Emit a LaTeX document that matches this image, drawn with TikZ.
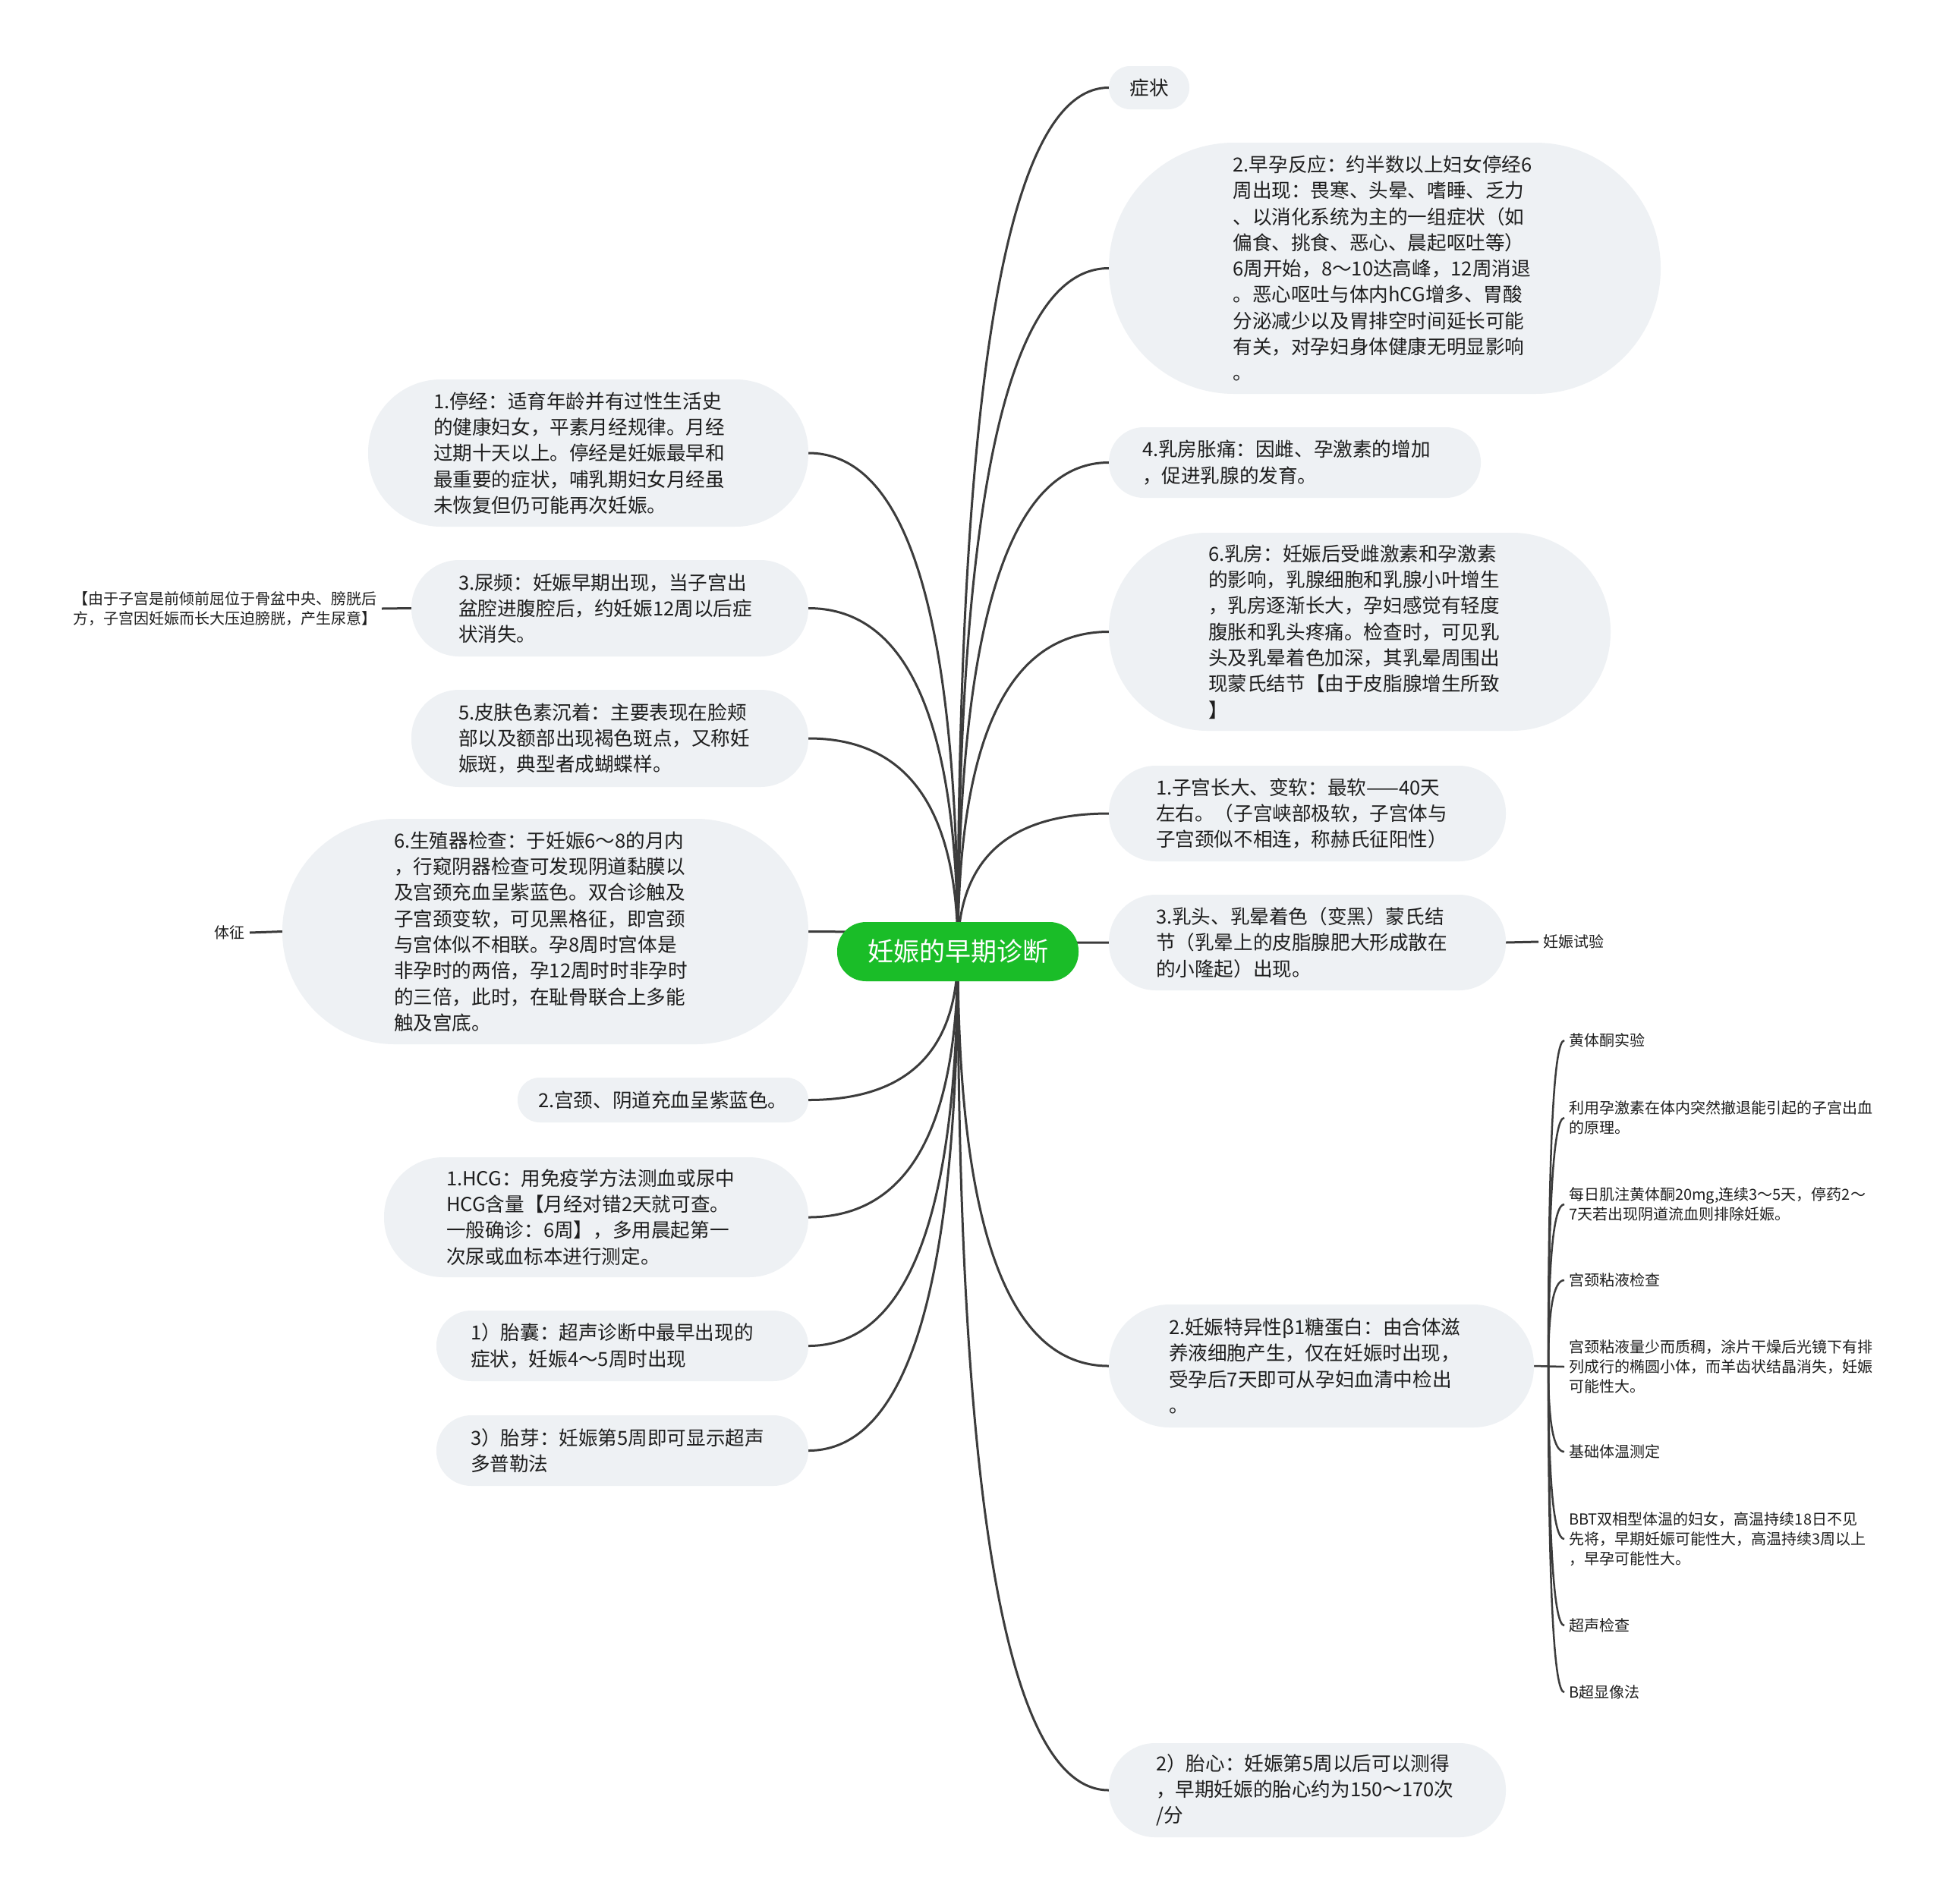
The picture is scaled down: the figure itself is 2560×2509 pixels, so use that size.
\documentclass[tikz,border=0pt]{standalone}
\usepackage{fontspec}
\newfontfamily\cjk{Noto Sans CJK SC}
\usetikzlibrary{calc,backgrounds}
\definecolor{boxgray}{RGB}{238,241,244}
\definecolor{txt}{RGB}{30,30,30}
\definecolor{lnk}{RGB}{60,60,60}
\definecolor{ctrgreen}{RGB}{26,189,40}
\newcommand\mmlink[3][]{\draw[lnk,line width=3pt,#1] (#2) .. controls ($(#2)!0.667!(#2 |- #3)$) and ($(#3)!0.667!(#2 |- #3)$) .. (#3);}
\begin{document}
\begin{tikzpicture}[x=1pt,y=-1pt,
 bx/.style={fill=boxgray,text=txt,font=\cjk\fontsize{25.6}{34.3}\selectfont,align=left,text width=400pt,inner sep=0pt},
 sm/.style={text=txt,font=\cjk\fontsize{20}{26}\selectfont,align=left,inner xsep=6pt,inner ysep=0pt}]
\useasboundingbox (0,0) rectangle (2560,2509);

% centre
\node[fill=ctrgreen,text=white,font=\cjk\fontsize{34}{40}\selectfont,minimum width=318pt,minimum height=78pt,rounded corners=38pt,inner sep=0pt] (ctr) at (1262,1254) {妊娠的早期诊断};

% right side
\node[bx,text width=,align=center,minimum width=106pt,minimum height=57pt,rounded corners=28pt] (R1) at (1514,115.5) {症状};
\node[bx,minimum width=727pt,minimum height=331pt,rounded corners=165pt] (R2) at (1824.5,353.5) {2.早孕反应：约半数以上妇女停经6\\周出现：畏寒、头晕、嗜睡、乏力\\、以消化系统为主的一组症状（如\\偏食、挑食、恶心、晨起呕吐等）\\6周开始，8～10达高峰，12周消退\\。恶心呕吐与体内hCG增多、胃酸\\分泌减少以及胃排空时间延长可能\\有关，对孕妇身体健康无明显影响\\。};
\node[bx,minimum width=490pt,minimum height=93pt,rounded corners=46pt,text width=402pt] (R3) at (1706,609.5) {4.乳房胀痛：因雌、孕激素的增加\\，促进乳腺的发育。};
\node[bx,minimum width=661pt,minimum height=261pt,rounded corners=130pt,text width=399pt] (R4) at (1791.5,832.5) {6.乳房：妊娠后受雌激素和孕激素\\的影响，乳腺细胞和乳腺小叶增生\\，乳房逐渐长大，孕妇感觉有轻度\\腹胀和乳头疼痛。检查时，可见乳\\头及乳晕着色加深，其乳晕周围出\\现蒙氏结节【由于皮脂腺增生所致\\】};
\node[bx,minimum width=523pt,minimum height=126pt,rounded corners=62pt,text width=399pt] (R5) at (1722.5,1072) {1.子宫长大、变软：最软——40天\\左右。（子宫峡部极软，子宫体与\\子宫颈似不相连，称赫氏征阳性）};
\node[bx,minimum width=523pt,minimum height=126pt,rounded corners=62pt,text width=399pt] (R6) at (1722.5,1242) {3.乳头、乳晕着色（变黑）蒙氏结\\节（乳晕上的皮脂腺肥大形成散在\\的小隆起）出现。};
\node[bx,minimum width=560pt,minimum height=162pt,rounded corners=80pt,text width=402pt] (R7) at (1741,1800) {2.妊娠特异性β1糖蛋白：由合体滋\\养液细胞产生，仅在妊娠时出现，\\受孕后7天即可从孕妇血清中检出\\。};
\node[bx,minimum width=523pt,minimum height=124pt,rounded corners=61pt,text width=399pt] (R8) at (1722.5,2359) {2）胎心：妊娠第5周以后可以测得\\，早期妊娠的胎心约为150～170次\\/分};

% left side
\node[bx,minimum width=580pt,minimum height=194pt,rounded corners=96pt,text width=408pt] (L1) at (775,597) {1.停经：适育年龄并有过性生活史\\的健康妇女，平素月经规律。月经\\过期十天以上。停经是妊娠最早和\\最重要的症状，哺乳期妇女月经虽\\未恢复但仍可能再次妊娠。};
\node[bx,minimum width=523pt,minimum height=127pt,rounded corners=63pt,text width=399pt] (L2) at (803.5,801.5) {3.尿频：妊娠早期出现，当子宫出\\盆腔进腹腔后，约妊娠12周以后症\\状消失。};
\node[bx,minimum width=523pt,minimum height=128pt,rounded corners=63pt,text width=399pt] (L3) at (803.5,973) {5.皮肤色素沉着：主要表现在脸颊\\部以及额部出现褐色斑点，又称妊\\娠斑，典型者成蝴蝶样。};
\node[bx,minimum width=693pt,minimum height=297pt,rounded corners=148pt,text width=399pt] (L4) at (718.5,1227.5) {6.生殖器检查：于妊娠6～8的月内\\，行窥阴器检查可发现阴道黏膜以\\及宫颈充血呈紫蓝色。双合诊触及\\子宫颈变软，可见黑格征，即宫颈\\与宫体似不相联。孕8周时宫体是\\非孕时的两倍，孕12周时时非孕时\\的三倍，此时，在耻骨联合上多能\\触及宫底。};
\node[bx,minimum width=383pt,minimum height=59pt,rounded corners=29pt,text width=329pt] (L5) at (873.5,1449.5) {2.宫颈、阴道充血呈紫蓝色。};
\node[bx,minimum width=559pt,minimum height=158pt,rounded corners=78pt,text width=395pt] (L6) at (785.5,1604) {1.HCG：用免疫学方法测血或尿中\\HCG含量【月经对错2天就可查。\\一般确诊：6周】，多用晨起第一\\次尿或血标本进行测定。};
\node[bx,minimum width=490pt,minimum height=93pt,rounded corners=46pt] (L7) at (820,1773.5) {1）胎囊：超声诊断中最早出现的\\症状，妊娠4～5周时出现};
\node[bx,minimum width=490pt,minimum height=93pt,rounded corners=46pt] (L8) at (820,1911.5) {3）胎芽：妊娠第5周即可显示超声\\多普勒法};

% small leaves
\node[sm,anchor=east] (n1) at (503,802) {【由于子宫是前倾前屈位于骨盆中央、膀胱后\\方，子宫因妊娠而长大压迫膀胱，产生尿意】};
\node[sm,anchor=east] (n2) at (329,1229) {体征};
\node[sm,anchor=west] (n3) at (2027,1241) {妊娠试验};

\coordinate (J) at (2040,1801);
\node[sm,anchor=west] (c1) at (2061,1371) {黄体酮实验};
\node[sm,anchor=west] (c2) at (2061,1473) {利用孕激素在体内突然撤退能引起的子宫出血\\的原理。};
\node[sm,anchor=west] (c3) at (2061,1587) {每日肌注黄体酮20mg,连续3～5天，停药2～\\7天若出现阴道流血则排除妊娠。};
\node[sm,anchor=west] (c4) at (2061,1687) {宫颈粘液检查};
\node[sm,anchor=west] (c5) at (2061,1801) {宫颈粘液量少而质稠，涂片干燥后光镜下有排\\列成行的椭圆小体，而羊齿状结晶消失，妊娠\\可能性大。};
\node[sm,anchor=west] (c6) at (2061,1913) {基础体温测定};
\node[sm,anchor=west] (c7) at (2061,2028) {BBT双相型体温的妇女，高温持续18日不见\\先将，早期妊娠可能性大，高温持续3周以上\\，早孕可能性大。};
\node[sm,anchor=west] (c8) at (2061,2142) {超声检查};
\node[sm,anchor=west] (c9) at (2061,2230) {B超显像法};

\begin{scope}[on background layer]
\fill[white] (0,0) rectangle (2560,2509);
\foreach \t in {R1,R2,R3,R4,R5,R6,R7,R8}{\mmlink{ctr.center}{\t.west}}
\foreach \t in {L1,L2,L3,L4,L5,L6,L7,L8}{\mmlink{ctr.center}{\t.east}}
\draw[lnk,line width=3pt] (n1.east) -- (L2.west);
\draw[lnk,line width=3pt] (n2.east) -- (L4.west);
\draw[lnk,line width=3pt] (R6.east) -- (n3.west);
\draw[lnk,line width=2.5pt] (R7.east) -- (c5.west);
\foreach \t in {c1,c2,c3,c4,c6,c7,c8,c9}{\mmlink[line width=2.5pt]{J}{\t.west}}
\end{scope}
\end{tikzpicture}
\end{document}
